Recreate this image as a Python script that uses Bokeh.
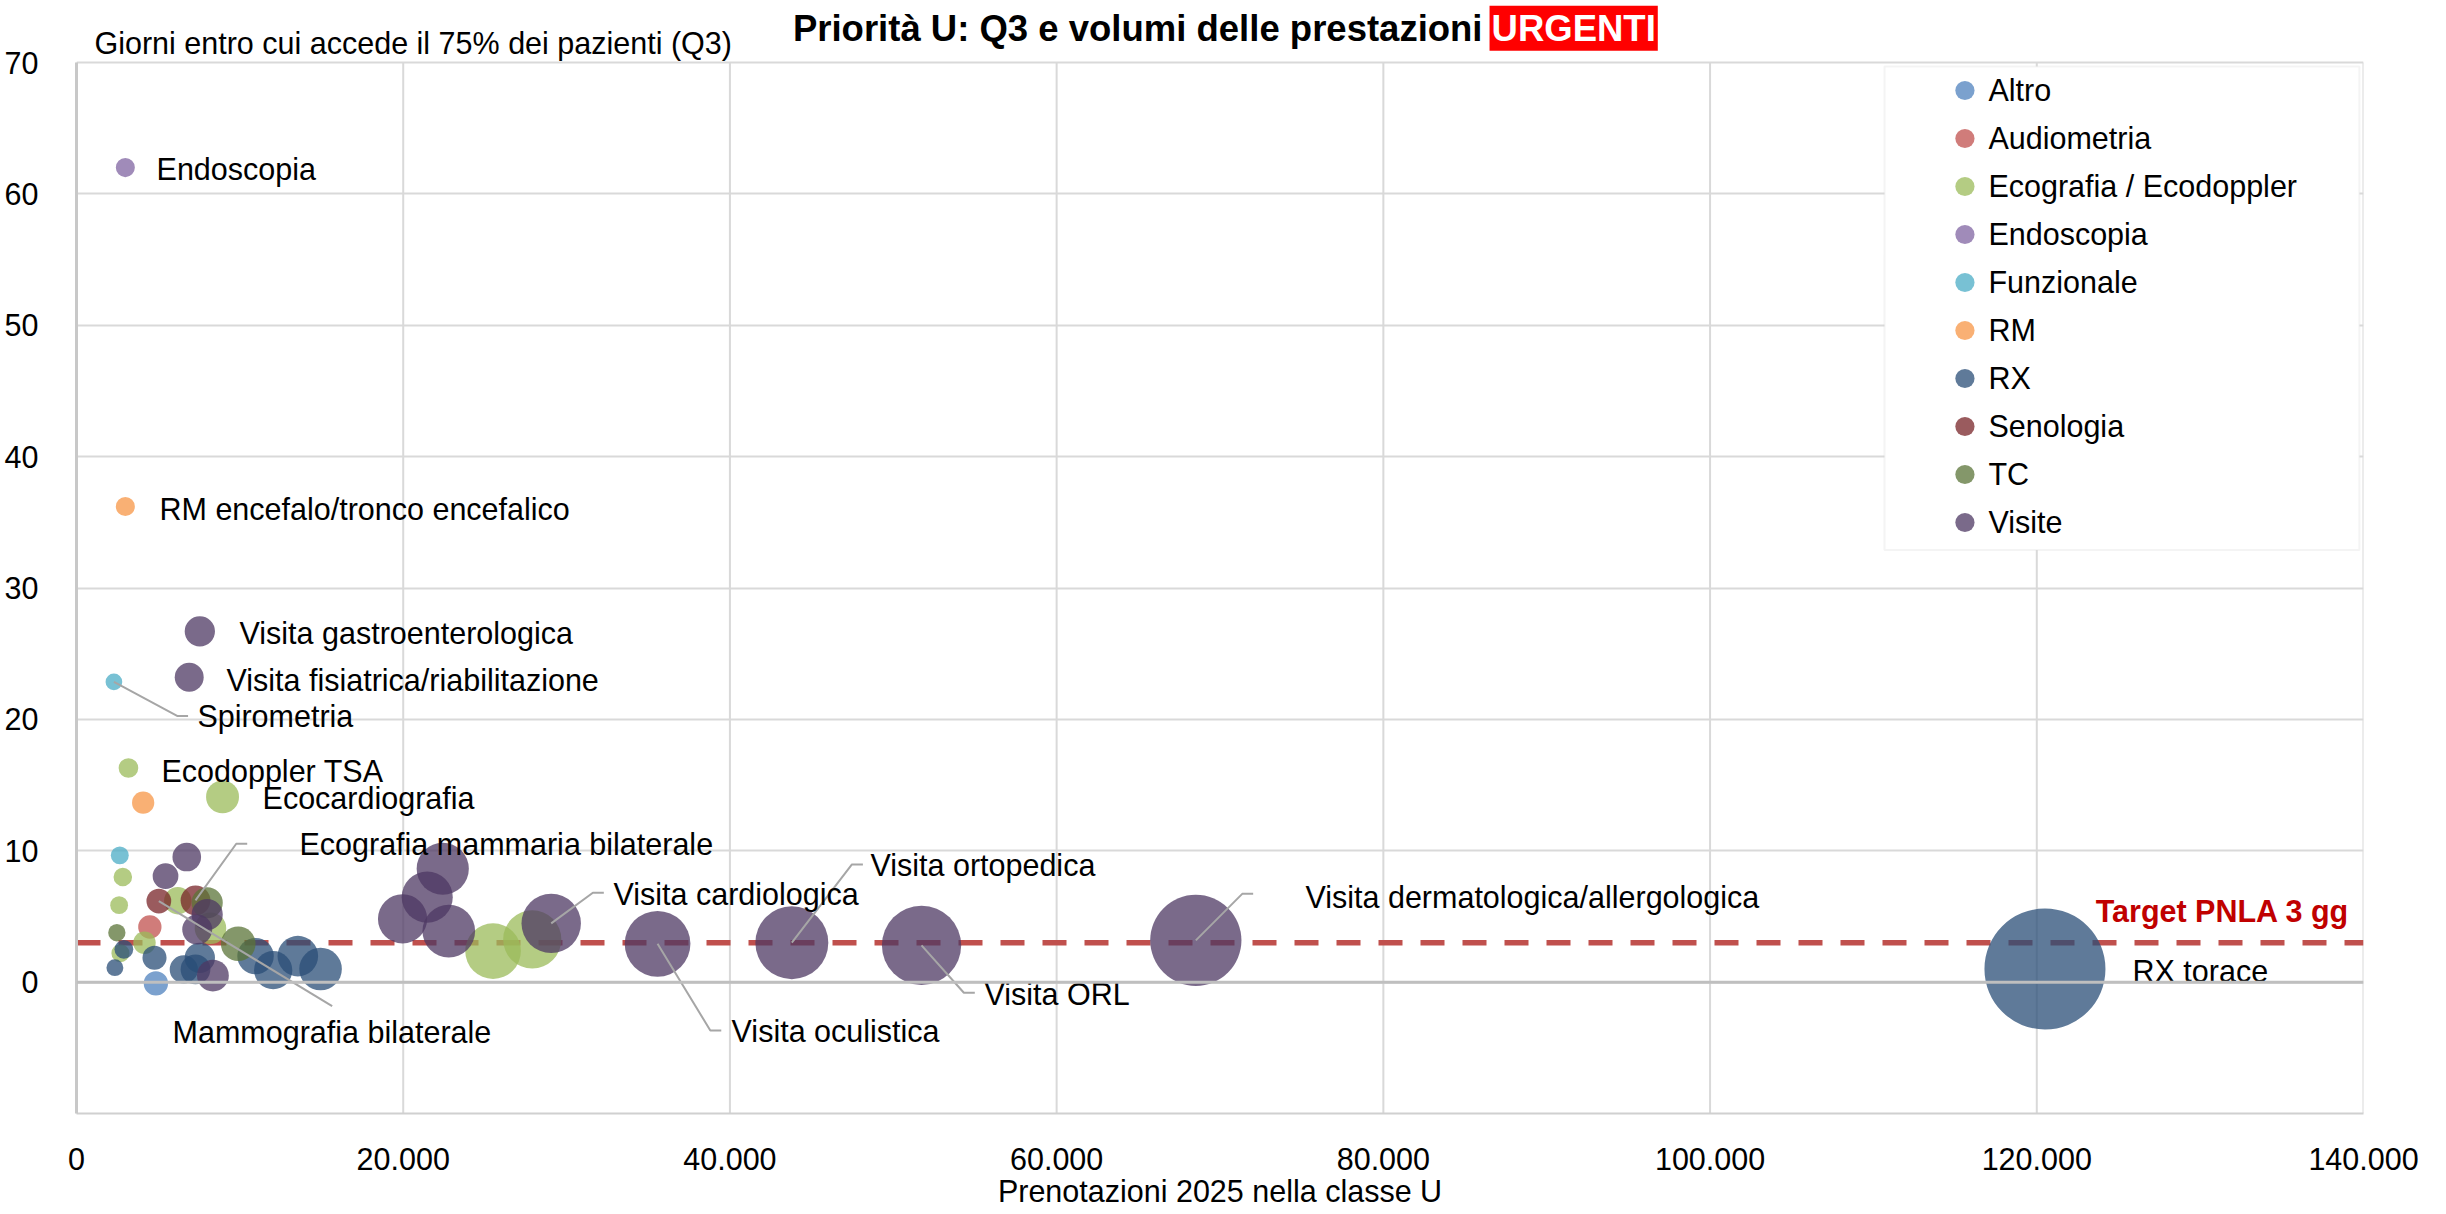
import numpy as np
from bokeh.plotting import figure
from bokeh.models import (FixedTicker, Label, Legend, LegendItem, Span, Range1d, BoxAnnotation)
from bokeh.embed import file_html
from bokeh.resources import INLINE
from bokeh.core.properties import value

# ---------------- data ----------------
categories = ["Altro", "Audiometria", "Ecografia / Ecodoppler", "Endoscopia", "Funzionale",
              "RM", "RX", "Senologia", "TC", "Visite"]
colors = ["#4F81BD", "#C0504D", "#9BBB59", "#8064A2", "#4BACC6",
          "#F79646", "#2A4E77", "#782428", "#5B7438", "#4E3863"]

altro_x = [4860]
altro_y = [-0.1]
audiometria_x = [4490]
audiometria_y = [4.2]
ecografia_x = [3180, 8940, 2835, 2610, 2690, 4160, 6200, 8200, 25500, 27900]
ecografia_y = [16.3, 14.1, 8.0, 5.86, 2.2, 3.0, 6.2, 4.1, 2.36, 3.25]
endoscopia_x = [2990]
endoscopia_y = [62.0]
funzionale_x = [2290, 2650]
funzionale_y = [22.85, 9.65]
rm_x = [2990, 4080]
rm_y = [36.2, 13.66]
rx_x = [2350, 2900, 4775, 6570, 7285, 7550, 10960, 12040, 13550, 14940, 120500]
rx_y = [1.1, 2.5, 1.85, 0.97, 0.97, 1.85, 1.98, 0.91, 1.98, 1.0, 1.0]
senologia_x = [5040, 7285]
senologia_y = [6.17, 6.22]
tc_x = [2470, 8000, 9900]
tc_y = [3.76, 6.04, 2.92]
visite_x = [7550, 6900, 5450, 6750, 8000, 7390, 8350, 19960, 21470, 22420, 22790,
            29060, 35570, 43790, 51730, 68520]
visite_y = [26.7, 23.2, 8.07, 9.52, 5.15, 4.0, 0.5, 4.82, 6.47, 8.63, 3.88,
            4.47, 2.92, 3.0, 2.8, 3.18]

series_x = [altro_x, audiometria_x, ecografia_x, endoscopia_x, funzionale_x,
            rm_x, rx_x, senologia_x, tc_x, visite_x]
series_y = [altro_y, audiometria_y, ecografia_y, endoscopia_y, funzionale_y,
            rm_y, rx_y, senologia_y, tc_y, visite_y]

# data labels (text, anchor)
label_text = ["Endoscopia", "RM encefalo/tronco encefalico", "Visita gastroenterologica",
              "Visita fisiatrica/riabilitazione", "Spirometria", "Ecodoppler TSA",
              "Ecocardiografia", "Ecografia mammaria bilaterale", "Mammografia bilaterale",
              "Visita cardiologica", "Visita ortopedica", "Visita oculistica", "Visita ORL",
              "Visita dermatologica/allergologica", "RX torace"]
label_x = [4900, 5080, 9980, 9180, 7400, 5200, 11390, 13650, 5880,
           32870, 48600, 40100, 55580, 75230, 125860]
label_y = [61.9, 36.0, 26.6, 23.0, 20.26, 16.07, 14.0, 10.5, -3.8,
           6.7, 8.9, -3.73, -0.91, 6.47, 0.84]

# leader lines: point -> elbow -> tail
leader_xs = [[2290, 6160, 6830], [7285, 9780, 10450], [5040, 15650],
             [29060, 31610, 32280], [43790, 47470, 48140], [35570, 38800, 39470],
             [51730, 54320, 54990], [68520, 71360, 72030]]
leader_ys = [[22.85, 20.26, 20.26], [6.22, 10.53, 10.53], [6.17, -1.83],
             [4.47, 6.8, 6.8], [3.0, 8.96, 8.96], [2.92, -3.68, -3.68],
             [2.8, -0.81, -0.81], [3.18, 6.72, 6.72]]

target_x = [0, 140000]
target_y = [3, 3]

x_ticks = [0, 20000, 40000, 60000, 80000, 100000, 120000, 140000]
x_tick_labels = ["0", "20.000", "40.000", "60.000", "80.000", "100.000", "120.000", "140.000"]
y_ticks = [-10, 0, 10, 20, 30, 40, 50, 60, 70]
y_tick_labels = ["", "0", "10", "20", "30", "40", "50", "60", "70"]

# ---------------- style ----------------
FONT = "Liberation Sans"
FS = "30.5px"
MAX_D = 121.0
max_vol = max(max(s) for s in series_x)
Y_MIN, Y_MAX, Y_TOP = -10, 70, 74.72
GRID = "#D9D9D9"

p = figure(width=2440, height=1210, x_range=Range1d(0, 140000), y_range=Range1d(Y_MIN, Y_TOP),
           output_backend="svg", toolbar_location=None,
           min_border_left=76, min_border_right=77, min_border_top=0, min_border_bottom=97)
p.outline_line_color = None
p.background_fill_color = "white"
p.border_fill_color = "white"

for ax in (p.xaxis[0], p.yaxis[0]):
    ax.major_tick_line_color = None
    ax.minor_tick_line_color = None
    ax.major_label_text_font = FONT
    ax.major_label_text_font_size = FS
    ax.major_label_text_color = "black"

p.xaxis.ticker = FixedTicker(ticks=x_ticks)
p.xaxis.major_label_overrides = {t: l for t, l in zip(x_ticks, x_tick_labels)}
p.xaxis.major_label_standoff = 28
p.xaxis.axis_line_color = "#D0D0D0"
p.xaxis.axis_line_width = 2
p.xaxis.axis_label = "Prenotazioni 2025 nella classe U"
p.xaxis.axis_label_text_font = FONT
p.xaxis.axis_label_text_font_size = FS
p.xaxis.axis_label_text_font_style = "normal"
p.xaxis.axis_label_text_color = "black"
p.xaxis.axis_label_standoff = 1

p.yaxis.ticker = FixedTicker(ticks=y_ticks)
p.yaxis.major_label_overrides = {t: l for t, l in zip(y_ticks, y_tick_labels)}
p.yaxis.major_label_standoff = 32
p.yaxis.axis_line_color = "#C8C8C8"
p.yaxis.axis_line_width = 3
p.yaxis.bounds = (Y_MIN, Y_MAX)

p.xgrid.visible = False
p.ygrid.ticker = FixedTicker(ticks=y_ticks)
p.ygrid.grid_line_color = GRID
p.ygrid.grid_line_width = 2

# vertical grid lines limited to the value range
p.segment(x0=x_ticks, y0=[Y_MIN] * len(x_ticks), x1=x_ticks, y1=[Y_MAX] * len(x_ticks),
          line_color=GRID, line_width=2)

p.add_layout(Span(location=0, dimension="width", line_color="#BFBFBF", line_width=3))

# target line (below the bubbles)
p.line(target_x, target_y, line_color="#C0504D", line_width=5.5, line_dash="24 18")

items = []
for cat, col, xs, ys in zip(categories, colors, series_x, series_y):
    sizes = [MAX_D * np.sqrt(v / max_vol) for v in xs]
    r = p.scatter(xs, ys, size=sizes, fill_color=col, fill_alpha=0.75, line_color=None)
    items.append(LegendItem(label=cat, renderers=[r]))

p.multi_line(leader_xs, leader_ys, line_color="#A6A6A6", line_width=2)

p.text(label_x, label_y, text=label_text, text_font=value(FONT), text_font_size=FS,
       text_baseline="middle", text_align="left", text_color="black")

# legend frame + legend
p.add_layout(BoxAnnotation(left=110680, right=139750, top=69.7, bottom=32.9,
                           fill_color="white", fill_alpha=1.0,
                           line_color=GRID, line_width=2))
legend = Legend(items=items, location="top_right", margin=66, padding=0,
                glyph_width=48, glyph_height=48, label_height=48, spacing=0,
                label_standoff=0, label_width=308,
                label_text_font=FONT, label_text_font_size=FS, label_text_color="black",
                border_line_color=None, background_fill_alpha=0.0)
p.add_layout(legend)

# titles
p.add_layout(Label(x=86070, y=72.6, text="Priorità U: Q3 e volumi delle prestazioni",
                   text_font=FONT, text_font_size="36.5px", text_font_style="bold",
                   text_align="right", text_baseline="middle", text_color="black"))
p.add_layout(Label(x=86500, y=72.6, text="URGENTI",
                   text_font=FONT, text_font_size="36.5px", text_font_style="bold",
                   text_align="left", text_baseline="middle", text_color="white",
                   background_fill_color="#FF0000", padding=2))
p.add_layout(Label(x=1100, y=71.5, text="Giorni entro cui accede il 75% dei pazienti (Q3)",
                   text_font=FONT, text_font_size=FS, text_align="left",
                   text_baseline="middle", text_color="black"))
p.add_layout(Label(x=139650, y=5.45, text="Target PNLA  3 gg",
                   text_font=FONT, text_font_size=FS, text_font_style="bold",
                   text_align="right", text_baseline="middle", text_color="#C00000"))

open("out.html", "w").write(file_html(p, INLINE))
